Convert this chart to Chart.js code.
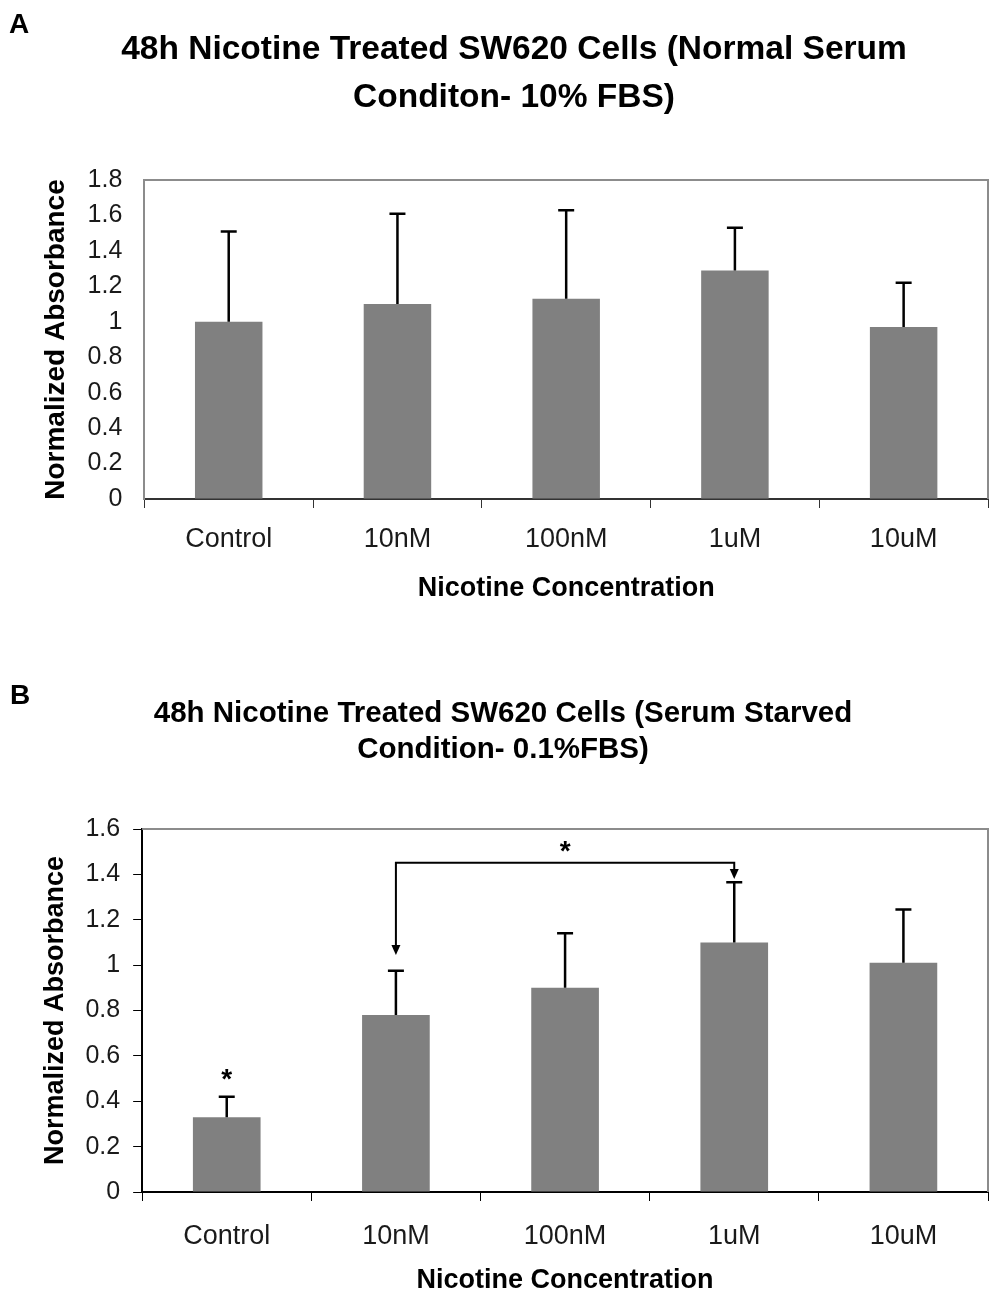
<!DOCTYPE html>
<html>
<head>
<meta charset="utf-8">
<script src="https://cdn.jsdelivr.net/npm/chart.js@4.4.1/dist/chart.umd.min.js"></script>
<style>
  body { margin: 0; background: #fff; }
  canvas { display: block; }
</style>
</head>
<body>
<canvas id="chartA" width="989" height="640"></canvas>
<canvas id="chartB" width="989" height="654"></canvas>
<script>
var categories = ["Control", "10nM", "100nM", "1uM", "10uM"];

// panel A: normal serum (10% FBS)
var meansA = [1.0, 1.1, 1.13, 1.29, 0.97];
var errorsA = [0.51, 0.51, 0.5, 0.24, 0.25];
var yTicksA = [0, 0.2, 0.4, 0.6, 0.8, 1, 1.2, 1.4, 1.6, 1.8];

// panel B: serum starved (0.1% FBS)
var meansB = [0.33, 0.78, 0.9, 1.1, 1.01];
var errorsB = [0.09, 0.195, 0.24, 0.265, 0.235];
var yTicksB = [0, 0.2, 0.4, 0.6, 0.8, 1, 1.2, 1.4, 1.6];

// significance marks for panel B
var starControl = 0.515;
var bracketLevel = 1.451;
var bracketLeftTip = 1.045;
var bracketRightTip = 1.38;
var bracketStar = 1.52;

var FONT = "'Liberation Sans', Arial, sans-serif";
Chart.defaults.font.family = FONT;
Chart.defaults.color = "#1a1a1a";

// upper error whiskers
var errorBars = {
  id: "errorBars",
  afterDatasetsDraw: function(chart, args, opts) {
    var ctx = chart.ctx;
    var meta = chart.getDatasetMeta(0);
    var y = chart.scales.y;
    ctx.save();
    ctx.strokeStyle = "#000";
    ctx.lineWidth = 2.5;
    meta.data.forEach(function(bar, i) {
      var top = y.getPixelForValue(opts.means[i] + opts.errors[i]);
      var base = y.getPixelForValue(opts.means[i]);
      ctx.beginPath();
      ctx.moveTo(bar.x, base);
      ctx.lineTo(bar.x, top);
      ctx.moveTo(bar.x - 8, top);
      ctx.lineTo(bar.x + 8, top);
      ctx.stroke();
    });
    ctx.restore();
  }
};

// gray box around the plot area, panel letter and two-line heading
var frame = {
  id: "frame",
  beforeDatasetsDraw: function(chart) {
    var a = chart.chartArea;
    var ctx = chart.ctx;
    ctx.save();
    ctx.strokeStyle = "#8c8c8c";
    ctx.lineWidth = 2;
    ctx.beginPath();
    ctx.moveTo(a.left, a.top);
    ctx.lineTo(a.right, a.top);
    ctx.lineTo(a.right, a.bottom);
    ctx.stroke();
    ctx.restore();
  },
  afterDraw: function(chart, args, opts) {
    var ctx = chart.ctx;
    ctx.save();
    ctx.fillStyle = "#000";
    ctx.textBaseline = "alphabetic";
    ctx.font = "bold 28px " + FONT;
    ctx.fillText(opts.letter, opts.letterX, opts.letterY);
    ctx.font = "bold " + opts.titleSize + "px " + FONT;
    ctx.textAlign = "center";
    opts.title.forEach(function(line, i) {
      ctx.fillText(line, opts.titleX, opts.titleY + i * opts.titleGap);
    });
    ctx.restore();
  }
};

// asterisks and comparison bracket
var significance = {
  id: "significance",
  afterDatasetsDraw: function(chart, args, opts) {
    if (!opts.show) return;
    var ctx = chart.ctx;
    var x = chart.scales.x;
    var y = chart.scales.y;
    ctx.save();
    ctx.fillStyle = "#000";
    ctx.strokeStyle = "#000";
    ctx.lineWidth = 2;
    ctx.font = "bold 28px " + FONT;
    ctx.textAlign = "center";
    ctx.textBaseline = "middle";
    ctx.fillText("*", x.getPixelForValue(0), y.getPixelForValue(starControl) + 5);

    var x1 = x.getPixelForValue(1);
    var x2 = x.getPixelForValue(3);
    var yl = y.getPixelForValue(bracketLevel);
    var y1 = y.getPixelForValue(bracketLeftTip);
    var y2 = y.getPixelForValue(bracketRightTip);
    ctx.beginPath();
    ctx.moveTo(x1, y1 - 8);
    ctx.lineTo(x1, yl);
    ctx.lineTo(x2, yl);
    ctx.lineTo(x2, y2 - 8);
    ctx.stroke();
    [[x1, y1], [x2, y2]].forEach(function(p) {
      ctx.beginPath();
      ctx.moveTo(p[0], p[1]);
      ctx.lineTo(p[0] - 4.5, p[1] - 10);
      ctx.lineTo(p[0] + 4.5, p[1] - 10);
      ctx.closePath();
      ctx.fill();
    });
    ctx.fillText("*", (x1 + x2) / 2, y.getPixelForValue(bracketStar) + 5);
    ctx.restore();
  }
};

function makeChart(id, cfg) {
  return new Chart(document.getElementById(id), {
    type: "bar",
    data: {
      labels: categories,
      datasets: [{
        data: cfg.means,
        backgroundColor: "#808080",
        borderWidth: 0,
        categoryPercentage: 1,
        barPercentage: 0.4
      }]
    },
    options: {
      responsive: false,
      animation: false,
      layout: { padding: { left: 39, right: 1, top: cfg.top, bottom: cfg.bottomPad } },
      plugins: {
        legend: { display: false },
        tooltip: { enabled: false },
        title: { display: false },
        errorBars: { means: cfg.means, errors: cfg.errors },
        frame: cfg.heading,
        significance: { show: cfg.marks }
      },
      scales: {
        x: {
          grid: {
            offset: true,
            drawOnChartArea: false,
            drawTicks: true,
            tickLength: 9,
            color: cfg.xAxisColor
          },
          border: { color: cfg.xAxisColor, width: 2 },
          ticks: { font: { size: 27, lineHeight: 1 }, padding: cfg.xTickPad, color: "#1a1a1a" },
          title: {
            display: true,
            text: "Nicotine Concentration",
            color: "#000",
            font: { size: 27, weight: "bold", lineHeight: 1 },
            padding: { top: cfg.xTitlePad, bottom: 0 }
          }
        },
        y: {
          min: 0,
          max: cfg.yTicks[cfg.yTicks.length - 1],
          afterBuildTicks: function(scale) {
            scale.ticks = cfg.yTicks.map(function(v) { return { value: v }; });
          },
          grid: {
            drawOnChartArea: false,
            drawTicks: cfg.yTickMarks,
            tickLength: 9,
            color: cfg.yAxisColor
          },
          border: { color: cfg.yAxisColor, width: 2 },
          ticks: {
            font: { size: 25 },
            padding: cfg.yTickPad,
            color: "#1a1a1a",
            callback: function(v) { return String(v); }
          },
          title: {
            display: true,
            text: "Normalized Absorbance",
            color: "#000",
            font: { size: cfg.yTitleSize, weight: "bold" },
            padding: { top: 0, bottom: cfg.yTitleGap }
          }
        }
      }
    },
    plugins: [frame, errorBars, significance]
  });
}

makeChart("chartA", {
  heading: {
    letter: "A", letterX: 9, letterY: 33,
    title: ["48h Nicotine Treated SW620 Cells (Normal Serum", "Conditon- 10% FBS)"],
    titleSize: 33.5, titleX: 514, titleY: 59, titleGap: 48
  },
  means: meansA,
  errors: errorsA,
  yTicks: yTicksA,
  yTickMarks: false,
  yTickPad: 22,
  yTitleSize: 28,
  yTitleGap: -7,
  yAxisColor: "#8c8c8c",
  xAxisColor: "#333",
  xTickPad: 18,
  xTitlePad: 4,
  marks: false,
  top: 180,
  bottomPad: 38
});

makeChart("chartB", {
  heading: {
    letter: "B", letterX: 10, letterY: 64,
    title: ["48h Nicotine Treated SW620 Cells (Serum Starved", "Condition- 0.1%FBS)"],
    titleSize: 29.5, titleX: 503, titleY: 82, titleGap: 36
  },
  means: meansB,
  errors: errorsB,
  yTicks: yTicksB,
  yTickMarks: true,
  yTickPad: 13,
  yTitleSize: 27,
  yTitleGap: 1,
  yAxisColor: "#000",
  xAxisColor: "#000",
  xTickPad: 22,
  xTitlePad: -5,
  marks: true,
  top: 189,
  bottomPad: 0
});
</script>
</body>
</html>
